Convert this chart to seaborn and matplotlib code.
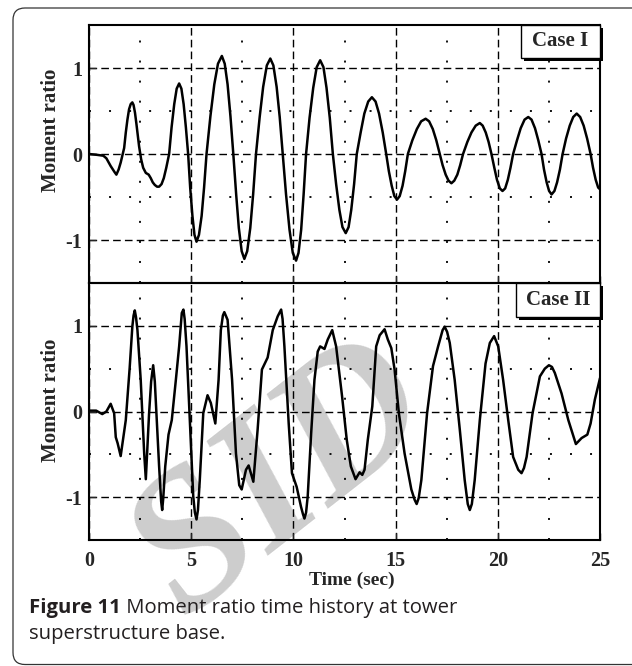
import numpy as np
import pandas as pd
import matplotlib
matplotlib.use("Agg")
import matplotlib.pyplot as plt
import seaborn as sns
from matplotlib.patches import Rectangle, FancyBboxPatch
from matplotlib.transforms import IdentityTransform
import matplotlib.patheffects as pe

# ---------------- data ----------------
time_case1 = [
    0.00, 0.40, 0.70, 0.85, 1.06, 1.25, 1.34, 1.45, 1.55, 1.72,
    1.80, 1.88, 1.96, 2.04, 2.12, 2.18, 2.25, 2.32, 2.45, 2.55,
    2.65, 2.78, 2.92, 3.02, 3.12, 3.22, 3.33, 3.43, 3.55, 3.66,
    3.78, 3.92,
    4.04, 4.17, 4.29, 4.41, 4.52, 4.63, 4.74, 4.85,
    4.95, 5.06, 5.16, 5.26, 5.38, 5.51, 5.63, 5.75,
    5.94, 6.13, 6.31, 6.50, 6.64, 6.78, 6.92, 7.06,
    7.20, 7.33, 7.47, 7.60, 7.74, 7.89, 8.03, 8.17,
    8.35, 8.52, 8.70, 8.87, 9.02, 9.18, 9.33, 9.48,
    9.64, 9.81, 9.97, 10.13, 10.25, 10.38, 10.50, 10.62,
    10.79, 10.97, 11.14, 11.31, 11.47, 11.62, 11.78, 11.93,
    12.09, 12.25, 12.40, 12.56, 12.70, 12.83, 12.97, 13.10,
    13.29, 13.47, 13.66, 13.84, 14.02, 14.19, 14.37, 14.54,
    14.67, 14.81, 14.94, 15.07, 15.20, 15.34, 15.47, 15.60,
    15.82, 16.04, 16.25, 16.47, 16.64, 16.82, 16.99, 17.16,
    17.30, 17.45, 17.59, 17.73, 17.87, 18.02, 18.16, 18.30,
    18.51, 18.71, 18.92, 19.12, 19.26, 19.41, 19.55, 19.69,
    19.83, 19.96, 20.10, 20.23, 20.36, 20.49, 20.62, 20.75,
    20.94, 21.12, 21.31, 21.49, 21.65, 21.82, 21.98, 22.14,
    22.26, 22.39, 22.51, 22.63, 22.77, 22.90, 23.04, 23.17,
    23.34, 23.52, 23.69, 23.86, 24.03, 24.20, 24.37, 24.54,
    24.66, 24.79, 24.91, 25.00,
]
ratio_case1 = [
    0.00, -0.01, -0.02, -0.05, -0.14, -0.21, -0.24, -0.18, -0.10, 0.07,
    0.25, 0.40, 0.52, 0.58, 0.60, 0.57, 0.48, 0.35, 0.09, -0.06,
    -0.16, -0.22, -0.24, -0.28, -0.33, -0.36, -0.38, -0.38, -0.35, -0.28,
    -0.16, 0.00,
    0.31, 0.58, 0.76, 0.82, 0.76, 0.58, 0.31, 0.00,
    -0.39, -0.72, -0.94, -1.02, -0.94, -0.72, -0.39, 0.00,
    0.44, 0.81, 1.05, 1.14, 1.05, 0.81, 0.44, 0.00,
    -0.47, -0.86, -1.13, -1.22, -1.13, -0.86, -0.47, 0.00,
    0.43, 0.78, 1.03, 1.11, 1.03, 0.78, 0.43, 0.00,
    -0.47, -0.88, -1.15, -1.24, -1.15, -0.88, -0.47, 0.00,
    0.42, 0.77, 1.01, 1.09, 1.01, 0.77, 0.42, 0.00,
    -0.35, -0.65, -0.85, -0.92, -0.85, -0.65, -0.35, 0.00,
    0.25, 0.47, 0.61, 0.66, 0.61, 0.47, 0.25, 0.00,
    -0.20, -0.37, -0.49, -0.53, -0.49, -0.37, -0.20, 0.00,
    0.16, 0.29, 0.38, 0.41, 0.38, 0.29, 0.16, 0.00,
    -0.13, -0.24, -0.31, -0.34, -0.31, -0.24, -0.13, 0.00,
    0.14, 0.25, 0.33, 0.36, 0.33, 0.25, 0.14, 0.00,
    -0.16, -0.30, -0.40, -0.43, -0.40, -0.30, -0.16, 0.00,
    0.16, 0.30, 0.40, 0.43, 0.40, 0.30, 0.16, 0.00,
    -0.18, -0.33, -0.43, -0.47, -0.43, -0.33, -0.18, 0.00,
    0.18, 0.33, 0.43, 0.47, 0.43, 0.33, 0.18, 0.00,
    -0.16, -0.30, -0.39, -0.41,
]

time_case2 = [
    0.00, 0.35, 0.65, 0.85, 1.06, 1.23, 1.31, 1.40, 1.55, 1.80,
    1.99, 2.12, 2.18, 2.24, 2.30, 2.37, 2.53, 2.70, 2.78, 2.94,
    3.04, 3.14, 3.22, 3.30, 3.43, 3.53, 3.58, 3.63, 3.73, 3.89,
    4.05, 4.25, 4.41, 4.54, 4.62, 4.68, 4.77, 4.93, 5.10, 5.18,
    5.26, 5.33, 5.42, 5.59, 5.80, 5.96, 6.18, 6.34, 6.45, 6.55,
    6.62, 6.78, 7.00, 7.19, 7.35, 7.47, 7.68, 7.81, 8.04, 8.25,
    8.46, 8.74, 8.99, 9.23, 9.40, 9.47, 9.56, 9.77, 9.93, 10.16,
    10.37, 10.47, 10.54, 10.62, 10.70, 10.87, 11.03, 11.19, 11.31, 11.52,
    11.68, 11.90, 12.09, 12.38, 12.61, 12.81, 13.04, 13.24, 13.37, 13.48,
    13.64, 13.86, 14.05, 14.22, 14.46, 14.62, 14.79, 14.95, 15.16, 15.44,
    15.77, 15.93, 16.03, 16.13, 16.26, 16.54, 16.83, 17.08, 17.30, 17.40,
    17.52, 17.65, 17.89, 18.14, 18.38, 18.53, 18.63, 18.73, 18.87, 19.12,
    19.40, 19.61, 19.82, 20.02, 20.26, 20.51, 20.75, 21.00, 21.16, 21.28,
    21.41, 21.70, 22.06, 22.30, 22.50, 22.65, 22.79, 23.12, 23.45, 23.82,
    24.10, 24.38, 24.54, 24.75, 25.00,
]
ratio_case2 = [
    0.01, 0.01, -0.03, 0.00, 0.09, -0.02, -0.30, -0.37, -0.52, -0.10,
    0.51, 0.99, 1.12, 1.18, 1.10, 0.95, 0.37, -0.49, -0.79, -0.02,
    0.35, 0.54, 0.35, -0.02, -0.64, -1.05, -1.15, -1.02, -0.64, -0.27,
    -0.10, 0.37, 0.76, 1.15, 1.19, 1.08, 0.76, -0.10, -0.99, -1.18,
    -1.26, -1.15, -0.80, -0.02, 0.19, 0.10, -0.14, 0.37, 0.95, 1.12,
    1.16, 1.07, 0.37, -0.49, -0.86, -0.91, -0.68, -0.63, -0.82, -0.21,
    0.49, 0.63, 0.95, 1.11, 1.19, 1.08, 0.76, -0.14, -0.72, -0.88,
    -1.11, -1.20, -1.25, -1.18, -0.99, -0.25, 0.37, 0.70, 0.76, 0.73,
    0.84, 0.95, 0.76, 0.18, -0.33, -0.64, -0.79, -0.71, -0.74, -0.68,
    -0.33, 0.06, 0.76, 0.89, 0.96, 0.84, 0.74, 0.49, -0.02, -0.49,
    -0.91, -1.03, -1.08, -1.01, -0.80, -0.02, 0.53, 0.76, 0.95, 0.99,
    0.93, 0.80, 0.37, -0.21, -0.80, -1.08, -1.15, -1.08, -0.80, -0.10,
    0.56, 0.80, 0.88, 0.76, 0.37, -0.10, -0.53, -0.68, -0.72, -0.66,
    -0.53, -0.02, 0.41, 0.50, 0.54, 0.52, 0.45, 0.21, -0.10, -0.38,
    -0.31, -0.27, -0.14, 0.14, 0.39,
]

panel_names = ["Case I", "Case II"]
x_major = [0, 5, 10, 15, 20, 25]
x_minor = [2.5, 7.5, 12.5, 17.5, 22.5]
y_major = [-1, 0, 1]
y_minor = [-0.5, 0.5]
y_tick_labels = ["-1", "0", "1"]
y_label = "Moment ratio"
x_label = "Time (sec)"
caption_bold = "Figure 11"
caption_rest_1 = " Moment ratio time history at tower"
caption_line_2 = "superstructure base."
watermark = "SID"

# ---------------- style ----------------
sns.set_style("white")
plt.rcParams["font.family"] = ["Liberation Serif", "DejaVu Serif"]
plt.rcParams["axes.linewidth"] = 1.5

W, H = 632, 666
fig = plt.figure(figsize=(W / 100, H / 100), dpi=100)


def rect(x0, y0, x1, y1):
    return [x0 / W, 1 - y1 / H, (x1 - x0) / W, (y1 - y0) / H]


# outer rounded frame (pixel coords)
frame = FancyBboxPatch((13, 1.5), 660, 656.5, boxstyle="round,pad=0,rounding_size=12",
                       transform=IdentityTransform(), fc="none", ec="#333333", lw=0.9)
fig.add_artist(frame)

# watermark
fig.text(283 / W, 1 - 482 / H, watermark, fontsize=140, color="#cdcdcd", rotation=38,
         ha="center", va="center", fontstyle="italic", fontweight="bold",
         family=["Liberation Serif"], zorder=-5)

ax1 = fig.add_axes(rect(89, 25, 600, 283))
ax2 = fig.add_axes(rect(89, 283, 600, 540))

series = [(time_case1, ratio_case1), (time_case2, ratio_case2)]
box_rects = [(521, 25, 600, 58), (516, 283, 600, 317)]
panel_px = [(89, 25, 600, 283), (89, 283, 600, 540)]
ylabel_centers = [130, 400]

for i, (ax, (tt, vv)) in enumerate(zip([ax1, ax2], series)):
    ax.set_facecolor("none")
    df = pd.DataFrame({"time": tt, "ratio": vv})
    sns.lineplot(data=df, x="time", y="ratio", ax=ax, color="black", lw=1.8,
                 sort=False, estimator=None, zorder=4)
    ax.set_xlim(0, 25)
    ax.set_ylim(-1.5, 1.5)
    ax.set_xticks(x_major)
    ax.set_xticks(x_minor, minor=True)
    ax.set_yticks(y_major)
    ax.set_yticks(y_minor, minor=True)
    ax.set_yticklabels(y_tick_labels)
    ax.grid(which="major", color="black", lw=1.0, ls=(0, (5.5, 3)))
    ax.grid(which="minor", color="black", lw=1.3, ls=(0, (1.1, 10)))
    ax.tick_params(which="major", direction="in", length=5, width=1.0,
                   labelsize=14.5, pad=5, left=True, bottom=True)
    ax.tick_params(which="minor", length=0)
    for lab in ax.get_xticklabels() + ax.get_yticklabels():
        lab.set_fontweight("bold")
    for sp in ax.spines.values():
        sp.set_visible(True)
        sp.set_color("black")
        sp.set_linewidth(1.5)

    px0, py0, px1, py1 = panel_px[i]
    ax.set_ylabel(y_label, fontsize=15, fontweight="bold")
    ax.yaxis.label.set_va("center")
    ax.yaxis.set_label_coords((51 - px0) / (px1 - px0), (py1 - ylabel_centers[i]) / (py1 - py0))

    # case box with shadow
    bx0, by0, bx1, by1 = box_rects[i]
    fx0 = (bx0 - px0) / (px1 - px0)
    fy0 = (py1 - by1) / (py1 - py0)
    fw = (bx1 - bx0) / (px1 - px0)
    fh = (by1 - by0) / (py1 - py0)
    r = Rectangle((fx0, fy0), fw, fh, transform=ax.transAxes, fc="white", ec="black",
                  lw=1.0, zorder=10, clip_on=False)
    r.set_path_effects([pe.SimplePatchShadow(offset=(2.5, -2.5), shadow_rgbFace="black", alpha=1.0),
                        pe.Normal()])
    ax.add_patch(r)
    ax.text(fx0 + fw / 2, fy0 + fh / 2, panel_names[i], transform=ax.transAxes,
            ha="center", va="center", fontsize=15, fontweight="bold", zorder=11)

ax1.tick_params(axis="x", labelbottom=False)
ax1.set_xlabel("")
ax2.tick_params(axis="x", pad=8)
ax2.set_xlabel(x_label, fontsize=14, fontweight="bold")
ax2.xaxis.label.set_va("center")
ax2.xaxis.set_label_coords((352 - 89) / 511, (540 - 580) / 257)

# caption
cap_font = ["Open Sans", "DejaVu Sans"]
cap_size = 14.6
t_bold = fig.text(29 / W, 1 - 613 / H, caption_bold, fontsize=cap_size, fontweight="bold",
                  family=cap_font, color="#231f20", va="baseline", ha="left")
fig.canvas.draw()
bb = t_bold.get_window_extent(renderer=fig.canvas.get_renderer())
fig.text(bb.x1 / W, 1 - 613 / H, caption_rest_1, fontsize=cap_size, family=cap_font,
         color="#231f20", va="baseline", ha="left")
fig.text(29 / W, 1 - 639 / H, caption_line_2, fontsize=cap_size, family=cap_font,
         color="#231f20", va="baseline", ha="left")

fig.savefig("out.png", dpi=100)
